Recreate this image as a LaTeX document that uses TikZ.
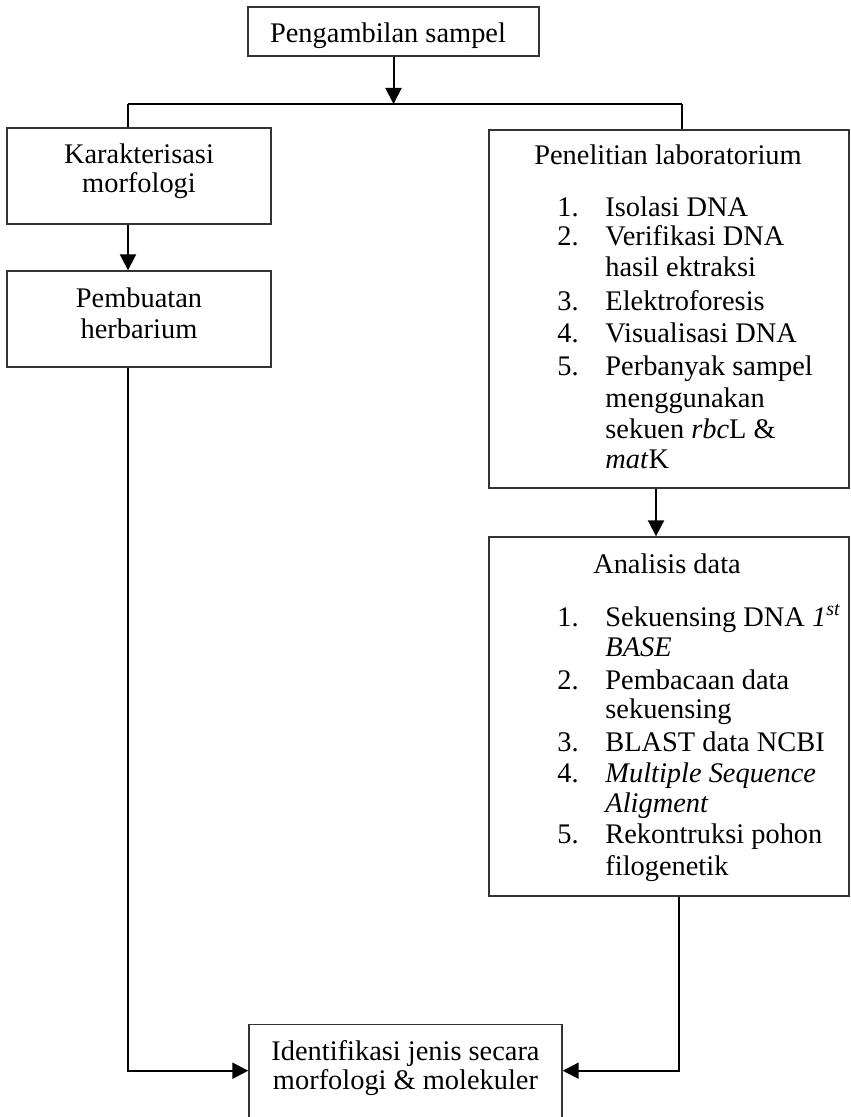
\documentclass[tikz,border=0pt]{standalone}
\usepackage{fontspec}
\setmainfont{Liberation Serif}
\usetikzlibrary{arrows.meta}
\tikzset{
  box/.style={draw=black!80, line width=0.7pt, inner sep=0pt},
  txt/.style={inner sep=0pt, font=\fontsize{14.2}{16}\selectfont},
  conn/.style={line width=1pt},
  arr/.style={line width=1pt, -{Triangle[width=8pt,length=8pt]}},
}
\newcommand{\numitem}[2]{\makebox[24pt][l]{#1}#2}
\begin{document}
\begin{tikzpicture}[x=0.5pt,y=-0.5pt]
\clip (0,0) rectangle (850,1117);
\fill[white] (0,0) rectangle (850,1117);
% boxes
\node[box, minimum width=145.5pt, minimum height=24.5pt] (top) at (393.5,31.5) {};
\node[box, minimum width=132pt, minimum height=48pt] (kar) at (139,176) {};
\node[box, minimum width=132pt, minimum height=48pt] (herb) at (139,319) {};
\node[box, minimum width=180pt, minimum height=179pt] (lab) at (669,309) {};
\node[box, minimum width=180pt, minimum height=179.5pt] (ana) at (669,716.5) {};
\node[box, minimum width=156.5pt, minimum height=65pt, anchor=north] (idbox) at (405.5,1024) {};
% texts
\node[txt, anchor=base] (topt) at (388,43) {Pengambilan sampel};
\node[txt, anchor=base] (kar1) at (139,164) {Karakterisasi};
\node[txt, anchor=base] (kar2) at (139,193) {morfologi};
\node[txt, anchor=base] (herb1) at (139,307) {Pembuatan};
\node[txt, anchor=base] (herb2) at (139,338) {herbarium};
\node[txt, anchor=base] (labt) at (668,165) {Penelitian laboratorium};
\node[txt, anchor=base west] (lab1) at (557,217) {\numitem{1.}{Isolasi DNA}};
\node[txt, anchor=base west] (lab2) at (557,246) {\numitem{2.}{Verifikasi DNA}};
\node[txt, anchor=base west] (lab2b) at (605,277) {hasil ektraksi};
\node[txt, anchor=base west] (lab3) at (557,310) {\numitem{3.}{Elektroforesis}};
\node[txt, anchor=base west] (lab4) at (557,343) {\numitem{4.}{Visualisasi DNA}};
\node[txt, anchor=base west] (lab5) at (557,375) {\numitem{5.}{Perbanyak sampel}};
\node[txt, anchor=base west] (lab5b) at (605,407) {menggunakan};
\node[txt, anchor=base west] (lab5c) at (605,438) {sekuen \textit{rbc}L \&};
\node[txt, anchor=base west] (lab5d) at (605,468) {\textit{mat}K};
\node[txt, anchor=base] (anat) at (667,573) {Analisis data};
\node[txt, anchor=base west] (ana1) at (557,626) {\numitem{1.}{Sekuensing DNA \textit{1\textsuperscript{st}}}};
\node[txt, anchor=base west] (ana1b) at (605,656) {\textit{BASE}};
\node[txt, anchor=base west] (ana2) at (557,689) {\numitem{2.}{Pembacaan data}};
\node[txt, anchor=base west] (ana2b) at (605,718) {sekuensing};
\node[txt, anchor=base west] (ana3) at (557,751) {\numitem{3.}{BLAST data NCBI}};
\node[txt, anchor=base west] (ana4) at (557,782) {\numitem{4.}{\textit{Multiple Sequence}}};
\node[txt, anchor=base west] (ana4b) at (605,812) {\textit{Aligment}};
\node[txt, anchor=base west] (ana5) at (557,843) {\numitem{5.}{Rekontruksi pohon}};
\node[txt, anchor=base west] (ana5b) at (605,875) {filogenetik};
\node[txt, anchor=base] (id1) at (405.5,1060) {Identifikasi jenis secara};
\node[txt, anchor=base] (id2) at (405.5,1089) {morfologi \& molekuler};
% connectors
\coordinate (busL) at (128,104);
\coordinate (busR) at (682,104);
\coordinate (xa) at (656,0);
\coordinate (xb) at (679,0);
\coordinate (inY) at (0,1070.7);
\draw[arr] (top.south) -- (top.south |- busL);
\draw[conn] (busL) -- (busR);
\draw[conn] (busL) -- (busL |- kar.north);
\draw[conn] (busR) -- (busR |- lab.north);
\draw[arr] (kar.south -| busL) -- (herb.north -| busL);
\draw[arr] (lab.south -| xa) -- (ana.north -| xa);
\draw[arr] (herb.south -| busL) |- (idbox.west |- inY);
\draw[arr] (ana.south -| xb) |- (idbox.east |- inY);
\end{tikzpicture}
\end{document}
